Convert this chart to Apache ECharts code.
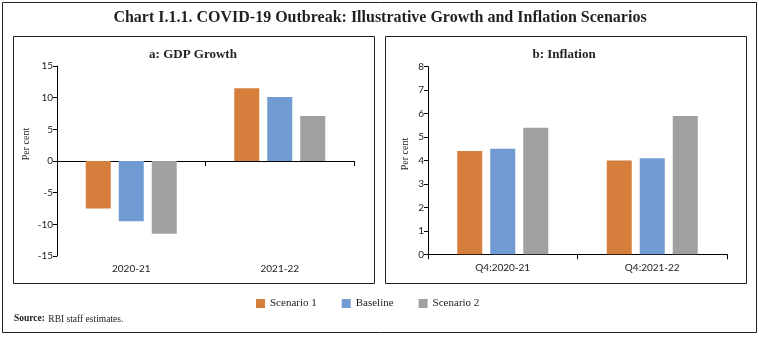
<!DOCTYPE html>
<html><head><meta charset="utf-8">
<script src="https://cdn.jsdelivr.net/npm/echarts@6/dist/echarts.min.js"></script>
<style>html,body{margin:0;padding:0;background:#fff}#c{width:759px;height:337px}</style>
</head><body><div id="c"></div>
<script>
const seriesNames = ['Scenario 1', 'Baseline', 'Scenario 2'];
const colors = ['#D67E3B', '#719BD3', '#A0A0A0'];
const gdpCategories = ['2020-21', '2021-22'];
const gdpScenario1 = [-7.5, 11.5];
const gdpBaseline = [-9.5, 10.1];
const gdpScenario2 = [-11.5, 7.1];
const infCategories = ['Q4:2020-21', 'Q4:2021-22'];
const infScenario1 = [4.4, 4.0];
const infBaseline = [4.5, 4.1];
const infScenario2 = [5.4, 5.9];
const gdpTicks = {min: -15, max: 15, interval: 5};
const infTicks = {min: 0, max: 8, interval: 1};

const chart = echarts.init(document.getElementById('c'));
const serif = '"Liberation Serif", "DejaVu Serif", serif';
const sans = 'Lato, "Open Sans", sans-serif';
const axisCol = '#000';

function xAxes(gi, cats) {
  return [
    {type: 'category', gridIndex: gi, data: cats, position: 'bottom',
     axisLine: {onZero: true, lineStyle: {color: axisCol, width: 1}},
     axisTick: {show: true, length: 5, lineStyle: {color: axisCol}},
     axisLabel: {show: false}},
    {type: 'category', gridIndex: gi, data: cats, position: 'bottom',
     axisLine: {show: false}, axisTick: {show: false},
     axisLabel: {show: true, color: '#222', fontFamily: sans, fontSize: 10, margin: 8}}
  ];
}
function yAxis(gi, t) {
  return {type: 'value', gridIndex: gi, min: t.min, max: t.max, interval: t.interval,
    axisLine: {show: true, lineStyle: {color: axisCol}},
    axisTick: {show: true, length: 4, lineStyle: {color: axisCol}},
    splitLine: {show: false},
    axisLabel: {color: '#222', fontFamily: sans, fontSize: 10, margin: 4}};
}
function bar(name, data, xi, yi, color) {
  return {name, type: 'bar', xAxisIndex: xi, yAxisIndex: yi, data,
    barWidth: 25, barGap: '32%', itemStyle: {color}};
}

chart.setOption({
  animation: false,
  textStyle: {fontFamily: serif},
  grid: [
    {left: 57, right: 405, top: 66, bottom: 81},
    {left: 428, right: 32, top: 66.7, bottom: 82.7}
  ],
  xAxis: [...xAxes(0, gdpCategories), ...xAxes(1, infCategories)],
  yAxis: [yAxis(0, gdpTicks), yAxis(1, infTicks)],
  legend: {
    data: seriesNames, top: 293, left: 251, icon: 'rect',
    itemWidth: 9, itemHeight: 9, itemGap: 25,
    textStyle: {fontFamily: serif, fontSize: 11, color: '#222'}
  },
  series: [
    bar('Scenario 1', gdpScenario1, 0, 0, colors[0]),
    bar('Baseline', gdpBaseline, 0, 0, colors[1]),
    bar('Scenario 2', gdpScenario2, 0, 0, colors[2]),
    bar('Scenario 1', infScenario1, 2, 1, colors[0]),
    bar('Baseline', infBaseline, 2, 1, colors[1]),
    bar('Scenario 2', infScenario2, 2, 1, colors[2])
  ],
  graphic: [
    {type: 'rect', shape: {x: 2.5, y: 2.5, width: 754, height: 330}, style: {fill: 'none', stroke: '#222', lineWidth: 1}, silent: true, z: -1},
    {type: 'rect', shape: {x: 13.5, y: 36.5, width: 361, height: 247}, style: {fill: 'none', stroke: '#222', lineWidth: 1}, silent: true, z: -1},
    {type: 'rect', shape: {x: 385.5, y: 36.5, width: 361, height: 247}, style: {fill: 'none', stroke: '#222', lineWidth: 1}, silent: true, z: -1},
    {type: 'text', x: 380, y: 18, style: {text: 'Chart I.1.1. COVID-19 Outbreak: Illustrative Growth and Inflation Scenarios', font: 'bold 16px ' + serif, fill: '#231f20', textAlign: 'center', textVerticalAlign: 'middle'}},
    {type: 'text', x: 193, y: 55, style: {text: 'a: GDP Growth', font: 'bold 13px ' + serif, fill: '#231f20', textAlign: 'center', textVerticalAlign: 'middle'}},
    {type: 'text', x: 564, y: 55, style: {text: 'b: Inflation', font: 'bold 13px ' + serif, fill: '#231f20', textAlign: 'center', textVerticalAlign: 'middle'}},
    {type: 'text', x: 26, y: 144, rotation: Math.PI / 2, style: {text: 'Per cent', font: '10px ' + serif, fill: '#222', textAlign: 'center', textVerticalAlign: 'middle'}},
    {type: 'text', x: 405, y: 154, rotation: Math.PI / 2, style: {text: 'Per cent', font: '10px ' + serif, fill: '#222', textAlign: 'center', textVerticalAlign: 'middle'}},
    {type: 'text', x: 14, y: 319, style: {rich: {b: {font: 'bold 9.5px ' + serif, fill: '#222'}, n: {font: '9.5px ' + serif, fill: '#222'}}, text: '{b|Source:} {n|RBI staff estimates.}', textVerticalAlign: 'middle'}}
  ]
});
</script></body></html>
